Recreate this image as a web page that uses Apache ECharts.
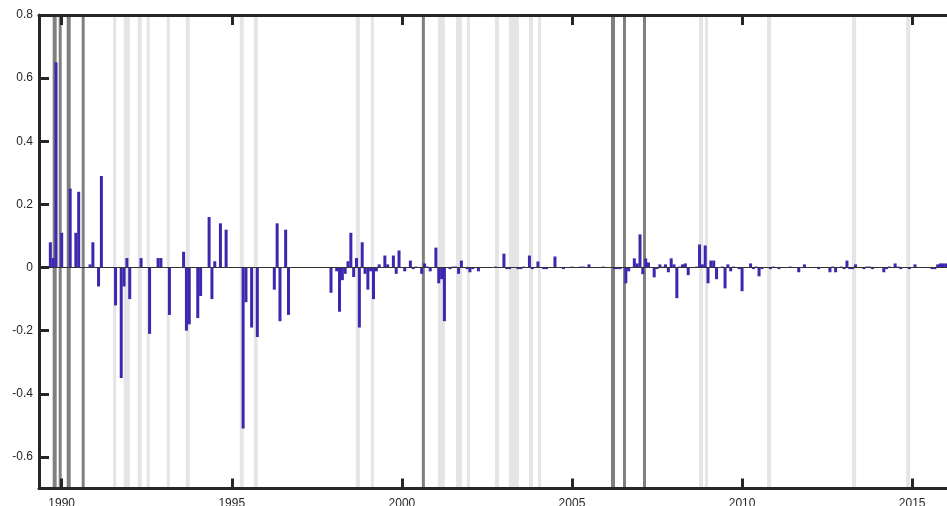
<!DOCTYPE html>
<html>
<head>
<meta charset="utf-8">
<script src="https://cdn.jsdelivr.net/npm/echarts@6/dist/echarts.min.js"></script>
<style>
    html, body { margin: 0; padding: 0; background: #fff; }
    #chart { width: 947px; height: 506px; }
</style>
</head>
<body>
<div id="chart"></div>
<script>
// monthly shock series (only months with a non-zero bar)
const dates = [
    "1989-09", "1989-10", "1989-11", "1990-01", "1990-04", "1990-06", "1990-07", "1990-11", "1990-12",
    "1991-02", "1991-03", "1991-08", "1991-10", "1991-11", "1991-12",
    "1992-01", "1992-05", "1992-08", "1992-11", "1992-12",
    "1993-03", "1993-08", "1993-09", "1993-10",
    "1994-01", "1994-02", "1994-05", "1994-06", "1994-07", "1994-09", "1994-11",
    "1995-05", "1995-06", "1995-08", "1995-10",
    "1996-04", "1996-05", "1996-06", "1996-08", "1996-09",
    "1997-12",
    "1998-02", "1998-03", "1998-04", "1998-05", "1998-06", "1998-07", "1998-08", "1998-09", "1998-10", "1998-11", "1998-12",
    "1999-01", "1999-02", "1999-03", "1999-04", "1999-05", "1999-07", "1999-08", "1999-10", "1999-11", "1999-12",
    "2000-02", "2000-04", "2000-05", "2000-06", "2000-08", "2000-09", "2000-10", "2000-11",
    "2001-01", "2001-02", "2001-03", "2001-04", "2001-06", "2001-07", "2001-08", "2001-09", "2001-10", "2001-12",
    "2002-01", "2002-02", "2002-04", "2002-10",
    "2003-01", "2003-02", "2003-03", "2003-06", "2003-07", "2003-08", "2003-10", "2003-11",
    "2004-01", "2004-03", "2004-04", "2004-07", "2004-10",
    "2005-01", "2005-04", "2005-05", "2005-07", "2005-12",
    "2006-04", "2006-05", "2006-06", "2006-08", "2006-09", "2006-11", "2006-12",
    "2007-01", "2007-02", "2007-03", "2007-04", "2007-06", "2007-07", "2007-08", "2007-09", "2007-10", "2007-11", "2007-12",
    "2008-01", "2008-02", "2008-03", "2008-04", "2008-05", "2008-06", "2008-09", "2008-10", "2008-11", "2008-12",
    "2009-01", "2009-02", "2009-03", "2009-04", "2009-06", "2009-07", "2009-08", "2009-09", "2009-10", "2009-12",
    "2010-01", "2010-04", "2010-05", "2010-06", "2010-07", "2010-08", "2010-11", "2010-12",
    "2011-02", "2011-06", "2011-09", "2011-11",
    "2012-04", "2012-08", "2012-09", "2012-10", "2012-12",
    "2013-01", "2013-02", "2013-03", "2013-04", "2013-05", "2013-08", "2013-09", "2013-10", "2013-11",
    "2014-03", "2014-04", "2014-05", "2014-07", "2014-08", "2014-09", "2014-12",
    "2015-02", "2015-08", "2015-09", "2015-10", "2015-11", "2015-12",
    "2016-01"
];
const shocks = [
    0.08, 0.03, 0.65, 0.11, 0.25, 0.11, 0.24, 0.01, 0.08,
    -0.06, 0.29, -0.12, -0.35, -0.06, 0.03,
    -0.10, 0.03, -0.21, 0.03, 0.03,
    -0.15, 0.05, -0.20, -0.18,
    -0.16, -0.09, 0.16, -0.10, 0.02, 0.14, 0.12,
    -0.51, -0.11, -0.19, -0.22,
    -0.07, 0.14, -0.17, 0.12, -0.15,
    -0.08,
    -0.012, -0.14, -0.04, -0.02, 0.02, 0.11, -0.03, 0.03, -0.19, 0.08, -0.02,
    -0.07, -0.012, -0.10, -0.012, 0.01, 0.038, 0.01, 0.038, -0.02, 0.054,
    -0.012, 0.022, -0.005, 0.003, -0.02, 0.013, 0.003, -0.012,
    0.063, -0.05, -0.037, -0.17, -0.005, 0.003, 0.003, -0.02, 0.022, -0.005,
    -0.015, -0.005, -0.012, 0.003,
    0.044, -0.005, -0.005, -0.005, -0.005, 0.003, 0.038, -0.005,
    0.019, -0.005, -0.005, 0.035, -0.005,
    0.003, 0.003, 0.003, 0.01, 0.003,
    -0.005, -0.005, -0.005, -0.05, -0.012, 0.029, 0.013,
    0.105, -0.021, 0.029, 0.016, -0.031, -0.005, 0.01, 0.003, 0.01, -0.015, 0.029,
    0.01, -0.097, 0.003, 0.01, 0.013, -0.024, 0.003, 0.073, 0.01, 0.07,
    -0.05, 0.022, 0.022, -0.037, 0.003, -0.066, 0.01, -0.012, 0.003, -0.005,
    -0.075, 0.013, -0.005, 0.003, -0.028, -0.005, -0.005, 0.003,
    -0.005, 0.003, -0.015, 0.01,
    -0.005, -0.015, 0.003, -0.015, 0.003,
    -0.005, 0.022, -0.005, -0.005, 0.01, -0.005, 0.003, 0.003, -0.005,
    -0.015, -0.005, 0.003, 0.013, 0.003, -0.005, -0.005,
    0.01, -0.005, -0.005, 0.01, 0.013, 0.013,
    0.013
];

// shaded periods, in decimal years
const darkBands = [
    [1989.735, 1989.853], [1989.912, 1990.0], [1990.147, 1990.265], [1990.588, 1990.676],
    [2000.588, 2000.676], [2006.147, 2006.265], [2006.5, 2006.588], [2007.088, 2007.176]
];
const lightBands = [
    [1991.509, 1991.603], [1991.824, 1992.0], [1992.235, 1992.353], [1992.5, 1992.588],
    [1993.088, 1993.176], [1993.647, 1993.765], [1995.235, 1995.353], [1995.647, 1995.765],
    [1998.647, 1998.765], [1999.088, 1999.176], [2001.059, 2001.265], [2001.588, 2001.765],
    [2001.912, 2002.0], [2002.735, 2002.853], [2003.147, 2003.441], [2003.735, 2003.853],
    [2004.0, 2004.088], [2008.735, 2008.853], [2008.912, 2009.0], [2010.735, 2010.853],
    [2013.235, 2013.353], [2014.824, 2014.941]
];

const yearTicks = [1990, 1995, 2000, 2005, 2010, 2015];
const valueTicks = [-0.6, -0.4, -0.2, 0, 0.2, 0.4, 0.6, 0.8];

const toYear = d => {
    const [y, m] = d.split("-").map(Number);
    return y + (m - 1) / 12;
};

const axisColor = "#262626";
const font = "'Liberation Sans', Arial, sans-serif";

const chart = echarts.init(document.getElementById("chart"), null, { renderer: "canvas" });

const xAxisBase = {
    type: "value",
    min: 1989.333,
    max: 2016.333,
    z: 10,
    axisLine: { show: true, onZero: false, lineStyle: { color: axisColor, width: 3 } },
    axisTick: {
        show: true,
        inside: true,
        length: 10,
        customValues: yearTicks,
        lineStyle: { color: axisColor, width: 3 }
    },
    splitLine: { show: false }
};

const yAxisBase = {
    type: "value",
    min: -0.7,
    max: 0.8,
    z: 10,
    axisLine: { show: true, onZero: false, lineStyle: { color: axisColor, width: 3 } },
    axisTick: {
        show: true,
        inside: true,
        length: 10,
        customValues: valueTicks,
        lineStyle: { color: axisColor, width: 3 }
    },
    splitLine: { show: false }
};

const bandData = [
    ...lightBands.map(b => [{ xAxis: b[0], itemStyle: { color: "#e5e5e5" } }, { xAxis: b[1] }]),
    ...darkBands.map(b => [{ xAxis: b[0], itemStyle: { color: "#808080" } }, { xAxis: b[1] }])
];

const option = {
    animation: false,
    backgroundColor: "#ffffff",
    // plot runs past the right edge of the window, as in the reference
    grid: {
        left: 39,
        width: 918.5,
        top: 15,
        bottom: 17.5,
        containLabel: false,
        outerBoundsMode: "none"
    },
    xAxis: [
        Object.assign({}, xAxisBase, {
            position: "bottom",
            axisLabel: {
                show: true,
                customValues: yearTicks,
                formatter: v => String(v),
                color: axisColor,
                fontSize: 12,
                fontFamily: font,
                margin: 9
            }
        }),
        Object.assign({}, xAxisBase, { position: "top", axisLabel: { show: false } })
    ],
    yAxis: [
        Object.assign({}, yAxisBase, {
            position: "left",
            axisLabel: {
                show: true,
                customValues: valueTicks,
                color: axisColor,
                fontSize: 12,
                fontFamily: font,
                margin: 6
            }
        }),
        Object.assign({}, yAxisBase, { position: "right", axisLabel: { show: false } })
    ],
    series: [
        {
            type: "bar",
            xAxisIndex: 0,
            yAxisIndex: 0,
            barWidth: 3,
            itemStyle: { color: "#3c27ae" },
            data: dates.map((d, i) => [toYear(d), shocks[i]]),
            markArea: {
                silent: true,
                z: 1,
                data: bandData
            },
            markLine: {
                silent: true,
                symbol: ["none", "none"],
                label: { show: false },
                lineStyle: { color: "#333333", width: 1, type: "solid" },
                data: [{ yAxis: 0 }]
            },
            z: 2
        }
    ]
};

chart.setOption(option);
</script>
</body>
</html>
